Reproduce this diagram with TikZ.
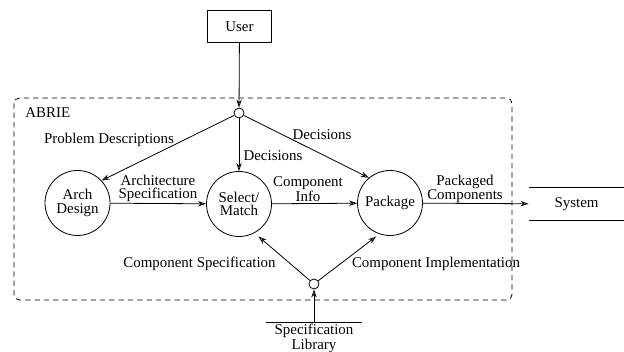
\documentclass[tikz,border=0pt]{standalone}
\usepackage{fontspec}
\setmainfont{Liberation Serif}
\newfontfamily\flowfont{Liberation Serif}
\usetikzlibrary{arrows.meta}

\tikzset{
  proc/.style={draw, circle, minimum size=48.75pt, inner sep=0pt, align=center},
  junction/.style={draw, circle, minimum size=7.5pt, inner sep=0pt},
  flow/.style={-{Stealth[open, length=6pt, width=4pt]}},
  lbl/.style={inner sep=0pt, align=center},
}

\begin{document}
\begin{tikzpicture}[x=0.75pt, y=-0.75pt, line width=0.6pt, font=\flowfont\fontsize{11.2}{10}\selectfont]
    \useasboundingbox (0,0) rectangle (624,352);

    % tool boundary
    \draw [dash pattern=on 4pt off 3pt, rounded corners=4pt] (14,98) rectangle (512,300);
    \node [lbl, anchor=west] (abrie) at (25,113) {ABRIE};

    \node [draw, minimum width=48pt, minimum height=24.5pt] (user) at (239.5,26.5) {User};
    \node [junction] (top) at (239,113) {};
    \node [junction] (bottom) at (314,284) {};

    \node [proc] (arch) at (77.5,203) {Arch\\Design};
    \node [proc] (select) at (239,204) {Select/\\Match};
    \node [proc] (package) at (390,203) {Package};

    % data stores
    \node [minimum width=71.25pt, minimum height=24pt, inner sep=0pt] (system) at (576.5,204) {System};
    \draw (system.north west) -- (system.north east);
    \draw (system.south west) -- (system.south east);

    \node [minimum width=72pt, inner sep=1pt, anchor=north, align=center] (speclib) at (314,322) {Specification\\Library};
    \draw (speclib.north west) -- (speclib.north east);

    \draw [flow] (user) -- (top);
    \draw [flow] (top) -- (arch.43);
    \draw [flow] (top) -- (select);
    \draw [flow] (top) -- (package.130);
    \draw [flow] (arch) -- (select);
    \draw [flow] (select) -- (package);
    \draw [flow] (package) -- (system);
    \draw [flow, shorten >=4pt] (bottom) -- (select.-62);
    \draw [flow, shorten >=3pt] (bottom) -- (package.-109);
    \draw [flow] (speclib.north) -- (bottom);

    % flow labels
    \node [lbl] (probdesc) at (109,140) {Problem Descriptions};
    \node [lbl] (dec1) at (273,156) {Decisions};
    \node [lbl] (dec2) at (322,135) {Decisions};
    \node [lbl] (archspec) at (158,188.5) {Architecture\\Specification};
    \node [lbl] (compinfo) at (308,189) {Component\\Info};
    \node [lbl] (packcomp) at (465,189) {Packaged\\Components};
    \node [lbl] (compspec) at (199.5,264) {Component Specification};
    \node [lbl] (compimpl) at (436,264) {Component Implementation};
\end{tikzpicture}
\end{document}
